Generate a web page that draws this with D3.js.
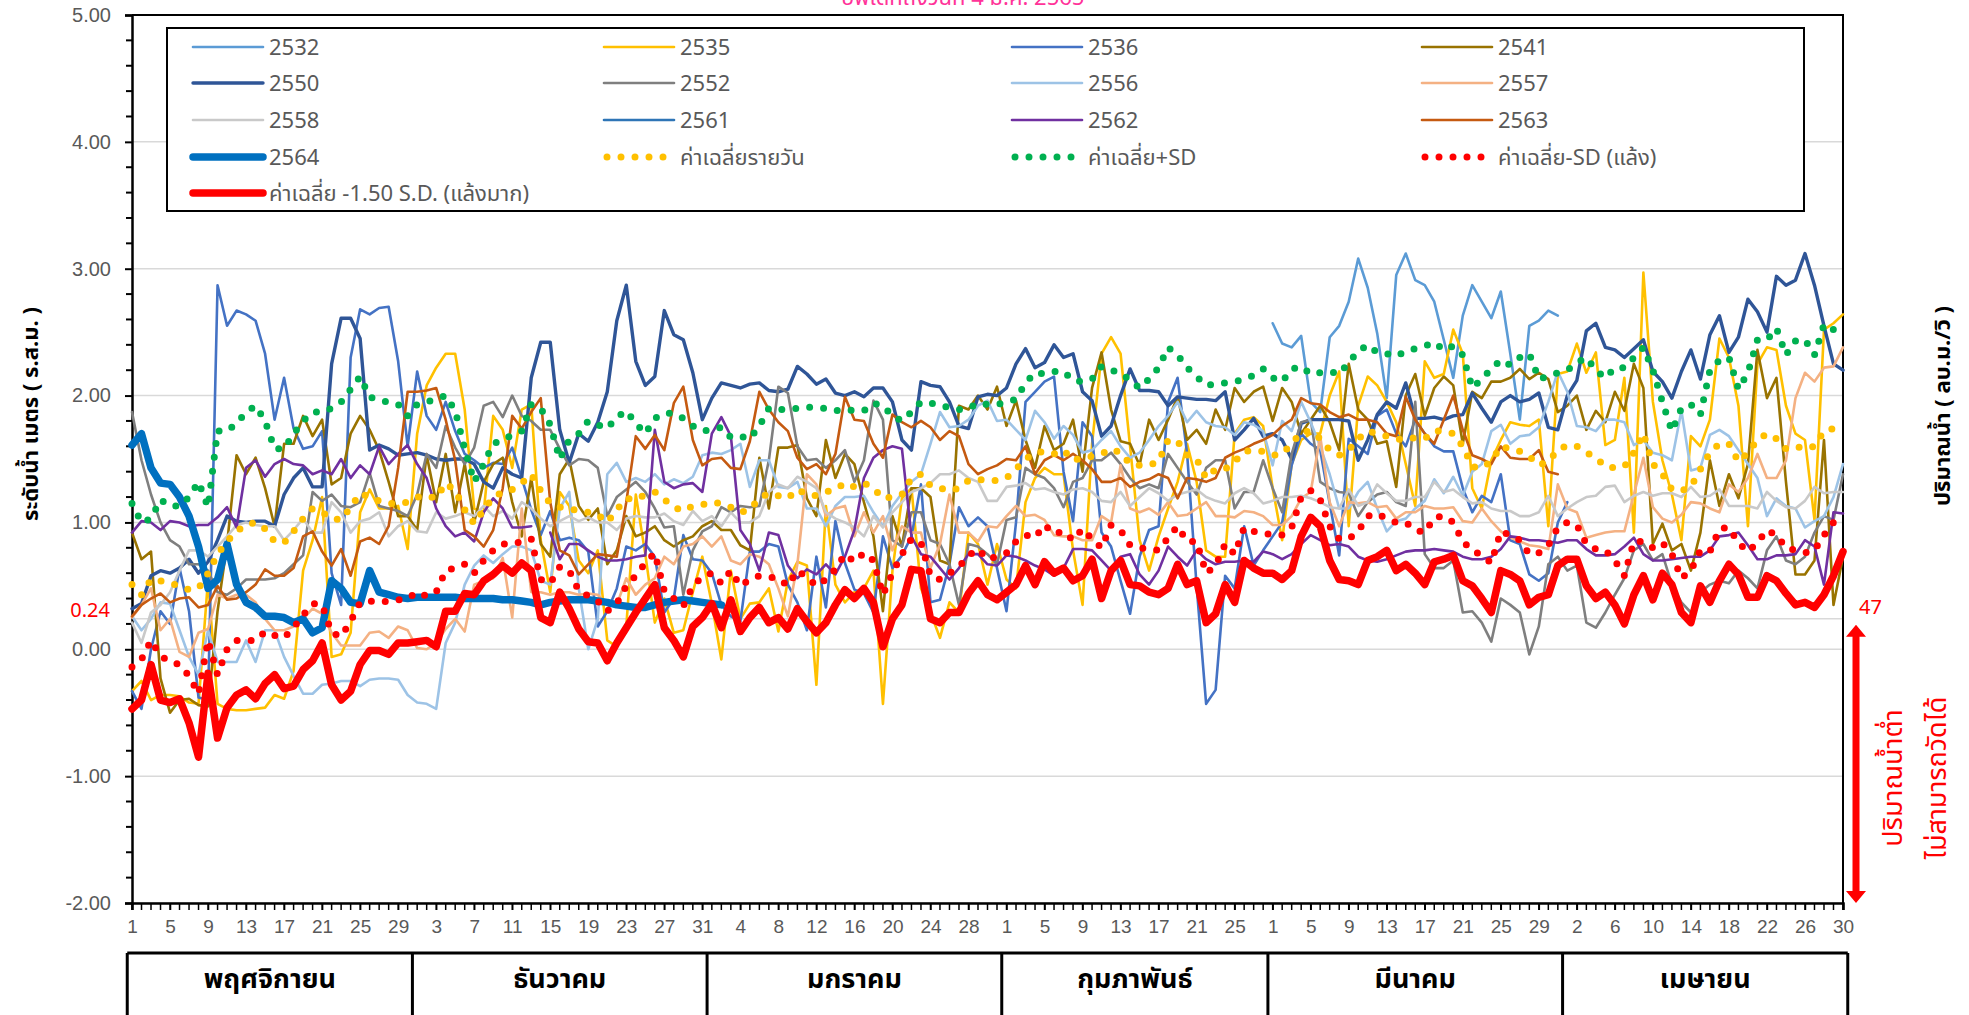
<!DOCTYPE html>
<html>
<head>
<meta charset="utf-8">
<script src="https://cdn.jsdelivr.net/npm/d3@7"></script>
<style>
  body { margin: 0; background: #fff; }
  svg { display: block; font-family: Tahoma, "Noto Sans Thai", "Noto Sans", sans-serif; }
</style>
</head>
<body>
<div id="chart"></div>
<script>
// months of the dry season (Nov - Apr)
const months = ["พฤศจิกายน", "ธันวาคม", "มกราคม", "กุมภาพันธ์", "มีนาคม", "เมษายน"];
const monthDays = [30, 31, 31, 28, 31, 30];
const yTicks = [5, 4, 3, 2, 1, 0, -1, -2];

// water level (m) per day, one value per day starting 1 Nov
const y2532 = [
  null,null,null,null,null,null,null,null,null,null,null,null,null,null,null,null,null,null,null,null,
  null,null,null,null,null,null,null,null,null,null,null,null,null,null,null,null,null,null,null,null,
  null,null,null,null,null,null,null,null,null,null,null,null,null,null,null,null,null,null,null,null,
  null,null,null,null,null,null,null,null,null,null,null,null,null,null,null,null,null,null,null,null,
  null,null,null,null,null,null,null,null,null,null,null,null,null,null,null,null,null,null,null,null,
  null,null,null,null,null,null,null,null,null,null,null,null,null,null,null,null,null,null,null,null,
  2.57,2.41,2.38,2.47,1.95,1.87,2.46,2.55,2.74,3.08,2.85,2.49,1.98,2.95,3.12,2.91,2.87,2.74,2.44,2.14,
  2.63,2.87,2.74,2.61,2.82,2.33,1.81,2.55,2.59,2.67,2.63];
const y2535 = [
  -0.33,-0.25,-0.40,-0.36,-0.36,-0.37,-0.42,-0.43,0.55,-0.43,-0.47,-0.48,-0.48,-0.47,-0.46,-0.36,-0.39,-0.17,0.62,0.86,
  1.20,-0.06,-0.04,0.13,1.08,1.26,1.11,1.11,1.13,0.79,1.70,
  2.08,2.22,2.33,2.33,1.89,1.11,1.08,1.84,1.73,1.43,1.89,1.93,0.86,0.45,1.24,1.13,0.70,0.60,0.78,0.07,
  0.02,0.18,1.22,0.75,0.21,0.40,0.13,0.15,0.45,0.73,0.36,
  -0.08,0.62,0.24,0.36,0.37,0.48,0.14,0.54,0.69,0.66,-0.28,1.13,0.51,0.37,0.45,0.48,0.62,-0.43,0.62,1.19,
  1.27,0.48,0.29,0.09,0.37,0.29,0.92,0.83,0.51,0.83,
  0.55,0.48,1.16,1.35,1.43,1.38,1.38,0.78,0.35,1.62,2.33,2.46,2.33,1.60,0.86,0.62,0.89,1.11,1.32,1.62,
  1.32,0.78,0.73,0.73,1.70,1.81,1.83,1.76,1.27,0.86,
  1.46,1.65,1.70,1.70,2.00,2.19,0.97,1.92,2.15,2.08,1.95,1.79,1.46,1.13,2.27,2.14,2.17,2.52,2.33,1.27,
  1.11,1.49,1.65,1.79,1.77,1.76,1.81,0.97,2.17,
  2.19,2.41,2.18,2.34,1.61,1.65,2.14,0.92,2.97,1.95,1.49,1.22,0.86,1.68,1.60,1.81,2.45,2.30,1.92,0.97,
  2.25,2.38,2.36,1.92,1.70,1.65,1.02,2.52,2.57,2.64];
const y2536 = [
  -0.33,-0.47,0.00,0.30,0.20,0.64,0.30,-0.38,-0.40,2.87,2.55,2.67,2.64,2.59,2.33,1.81,2.14,1.74,1.58,1.60,
  1.72,0.60,0.35,2.30,2.68,2.64,2.69,2.70,2.27,1.60,2.19,
  1.84,1.73,1.95,1.72,1.54,1.49,1.43,1.47,1.46,1.59,1.35,1.10,0.90,1.09,0.86,0.88,0.86,0.77,0.18,0.30,
  0.48,0.81,0.78,0.83,0.73,0.29,0.40,0.90,0.71,0.70,0.60,
  0.35,0.26,0.22,0.77,0.77,0.83,0.81,0.51,0.37,0.15,0.73,0.33,1.01,0.68,0.47,0.44,0.29,0.89,0.64,0.74,
  0.89,1.30,0.37,0.39,0.67,1.12,0.97,1.04,0.97,0.64,
  0.30,1.00,1.95,2.03,2.11,2.15,1.40,1.01,1.79,1.68,0.92,0.81,0.54,0.28,0.73,0.94,0.97,1.95,2.14,1.54,
  0.50,-0.43,-0.32,0.58,0.48,0.97,0.66,0.78,0.89,1.00,
  1.45,1.70,1.62,1.57,1.15,0.74,1.66,1.60,1.54,1.84,1.89,1.70,1.60,1.81,1.70,1.60,1.56,1.56,1.27,1.08,
  1.21,1.16,1.38,0.86,0.83,0.59,0.54,0.60,1.00,1.16];
const y2541 = [
  0.92,0.71,0.77,-0.23,-0.50,-0.40,-0.39,-0.44,-0.45,0.30,0.83,1.53,1.38,1.51,1.27,0.97,1.62,1.62,1.84,1.68,
  1.81,1.30,1.35,1.70,1.84,1.73,1.57,1.32,1.05,1.05,0.94,
  1.53,1.16,1.54,1.08,1.46,1.00,1.32,1.46,1.51,1.16,0.89,1.35,0.83,0.73,1.38,1.50,1.13,1.02,1.11,0.67,
  0.78,1.05,0.89,0.92,0.97,0.86,0.81,0.86,0.89,0.97,1.01,
  0.94,0.94,0.82,0.78,1.51,1.11,1.59,1.59,1.61,1.19,1.05,1.65,1.35,1.54,1.46,1.16,0.89,0.30,1.05,0.81,
  1.27,1.27,1.20,0.70,0.67,1.92,1.89,2.00,1.89,2.07,
  1.76,1.96,1.65,1.43,1.76,1.57,1.62,1.81,1.40,2.06,2.34,1.89,1.64,1.62,1.45,1.81,1.65,1.81,1.99,1.65,
  1.73,1.62,1.89,1.73,2.06,1.95,2.03,2.07,1.80,2.06,
  1.95,1.70,1.81,1.92,1.79,1.57,2.25,1.89,1.81,1.62,1.64,1.28,2.00,2.17,1.84,2.06,2.15,2.08,1.62,2.03,
  1.98,2.11,2.11,2.14,2.21,2.13,2.18,2.13,1.87,
  1.92,2.00,1.73,1.88,1.79,2.03,1.88,2.25,2.06,0.83,0.99,0.78,0.83,0.62,0.92,1.49,1.13,1.38,1.19,1.46,
  2.36,1.98,2.14,1.32,0.59,0.59,0.70,1.65,0.35,0.73];
const y2550 = [
  0.32,0.36,0.58,0.62,0.60,0.64,0.71,0.60,0.69,0.86,1.05,1.01,1.00,1.01,1.01,0.97,1.22,1.35,1.43,1.28,
  1.28,2.25,2.61,2.61,2.45,1.57,1.61,1.58,1.53,1.54,1.55,
  1.53,1.50,1.49,1.50,1.50,1.46,1.32,1.27,1.43,1.38,1.35,2.14,2.42,2.42,1.73,1.47,1.70,1.64,1.79,2.03,
  2.59,2.87,2.27,2.08,2.15,2.67,2.48,2.44,2.18,1.81,1.98,
  2.10,2.08,2.06,2.09,2.10,2.04,2.03,2.05,2.23,2.17,2.09,2.13,2.02,2.00,2.03,1.99,2.06,2.06,1.95,1.65,
  1.57,2.11,2.08,2.07,1.95,1.76,1.74,1.99,2.01,2.00,
  2.06,2.25,2.37,2.22,2.26,2.40,2.30,2.33,2.03,1.96,1.68,1.76,2.00,2.21,2.04,2.04,2.03,1.92,1.99,1.98,
  1.97,1.97,1.96,2.03,1.65,1.73,1.82,1.68,1.70,1.65,
  1.50,1.78,1.81,1.81,1.81,1.81,1.80,1.49,1.65,1.85,1.95,1.90,2.10,1.82,1.82,1.83,1.81,1.84,1.85,2.02,
  1.90,1.79,1.95,2.00,1.95,1.97,2.02,1.75,1.73,
  2.00,2.12,2.51,2.57,2.38,2.36,2.30,2.37,2.44,2.19,2.11,1.98,2.19,2.36,2.13,2.48,2.63,2.34,2.46,2.76,
  2.66,2.50,2.94,2.87,2.91,3.12,2.87,2.55,2.25,2.20];
const y2552 = [
  1.87,1.49,1.22,1.00,0.86,0.81,0.67,0.67,0.62,0.45,0.43,0.48,0.55,0.55,0.55,0.56,0.60,0.67,0.74,1.24,
  1.17,1.22,1.13,1.12,1.16,1.39,1.13,1.11,1.09,1.05,1.22,
  1.54,1.43,1.76,1.59,1.46,1.59,1.92,1.95,1.83,2.00,1.84,1.80,1.73,1.73,1.58,1.45,1.50,1.49,1.43,1.05,
  1.20,1.26,1.32,1.24,1.11,0.96,0.97,0.43,0.78,0.93,0.97,
  1.12,1.08,1.13,1.12,1.13,1.49,2.07,2.02,1.60,1.49,1.50,1.43,1.49,1.57,1.32,1.49,1.96,1.81,0.86,0.81,
  1.08,1.08,0.86,0.83,0.67,0.35,0.83,0.81,0.75,0.67,
  1.02,1.04,1.43,1.38,1.35,1.27,1.12,1.32,1.35,1.49,1.49,1.55,1.46,1.35,1.27,1.30,1.27,1.54,1.43,1.32,
  1.22,1.43,1.49,1.49,1.11,1.24,1.24,1.49,1.27,1.08,
  1.54,1.79,1.81,1.32,1.27,1.24,1.23,1.05,1.16,1.22,1.24,1.16,1.13,1.95,0.75,0.64,0.64,0.70,0.29,0.30,
  0.21,0.06,0.40,0.35,0.29,-0.04,0.18,0.67,0.73,
  0.62,0.66,0.21,0.17,0.29,0.43,0.56,0.78,0.83,0.70,0.75,0.51,0.37,0.29,0.45,0.51,0.54,0.52,0.62,0.56,
  0.48,0.78,0.89,0.70,0.67,0.73,0.92,1.05,1.02,1.38];
const y2556 = [
  0.26,0.15,0.24,0.37,0.36,0.15,-0.06,-0.20,0.15,-0.10,-0.10,-0.10,0.07,-0.10,0.15,0.15,-0.06,-0.21,-0.35,-0.35,
  -0.28,-0.27,-0.25,-0.25,-0.29,-0.24,-0.23,-0.23,-0.24,-0.36,-0.42,
  -0.43,-0.47,0.05,0.21,0.51,0.66,0.74,0.68,0.75,0.81,0.81,0.78,0.54,0.51,1.11,1.24,0.48,0.00,0.24,1.38,
  1.47,1.32,1.35,1.32,1.38,1.30,1.34,1.31,1.36,1.53,1.55,
  1.54,1.57,1.62,1.28,1.49,1.49,1.28,1.27,1.32,1.11,1.11,0.97,1.13,1.20,1.20,1.21,1.08,0.97,1.13,1.23,
  1.32,1.38,1.62,1.87,1.75,1.76,1.81,1.92,1.96,1.80,
  1.81,1.73,1.65,1.88,1.79,1.66,1.76,1.69,1.55,1.57,1.65,1.72,1.60,1.51,1.55,1.65,1.76,1.84,1.95,1.79,
  1.88,1.79,1.76,1.75,1.69,1.79,1.77,1.72,1.45,1.80,
  1.72,1.95,1.79,1.60,1.38,1.11,1.11,1.24,1.32,1.11,0.93,1.01,1.03,1.11,1.17,1.34,1.23,1.36,1.21,1.40,
  1.46,1.72,1.77,1.62,1.68,1.69,1.75,1.95,2.19,
  2.03,1.76,1.75,1.72,1.81,1.81,1.79,1.61,1.65,1.55,1.53,1.49,1.88,1.41,1.43,1.69,1.73,1.68,1.57,1.46,
  1.35,1.05,1.19,1.13,1.11,0.96,1.01,1.05,1.20,1.46];
const y2557 = [
  0.25,0.35,0.48,0.15,0.24,-0.02,-0.06,0.13,0.16,0.43,0.40,0.43,0.43,0.37,0.24,0.15,0.15,0.18,0.24,0.32,
  0.28,0.13,0.03,0.03,0.03,0.13,0.14,0.09,0.18,0.15,0.01,
  0.00,0.05,0.16,0.24,0.14,0.51,0.54,0.56,0.72,0.25,1.11,0.45,0.45,0.43,0.45,0.45,0.43,0.44,0.43,0.35,
  0.35,0.56,0.43,0.51,0.56,0.73,0.67,0.81,0.83,0.89,0.81,
  0.89,0.70,0.67,0.75,0.73,0.67,0.48,0.26,0.67,1.38,1.30,1.05,1.11,1.13,0.89,1.08,0.92,1.05,0.78,0.97,
  0.92,0.92,0.64,0.83,1.22,0.92,0.92,0.85,0.97,0.96,
  1.05,1.13,1.05,1.06,1.02,0.90,0.89,0.89,0.86,0.86,1.05,1.00,1.45,1.11,1.08,1.11,1.06,1.16,1.05,1.06,
  1.11,1.16,1.05,1.05,1.04,1.09,1.08,1.05,0.98,0.98,
  1.05,1.19,1.24,1.68,1.16,0.97,1.16,1.15,1.16,1.12,1.13,1.03,1.08,1.08,1.13,1.11,1.11,1.12,1.01,1.00,
  1.11,1.01,0.93,0.88,0.85,0.82,0.81,0.79,1.30,
  1.11,1.08,0.88,0.90,0.92,0.93,0.93,1.22,1.51,1.12,1.03,1.00,1.06,1.16,1.15,1.11,1.08,1.30,1.24,1.35,
  1.54,1.35,1.35,1.49,1.98,2.18,2.11,2.22,2.23,2.38];
const y2558 = [
  0.21,0.05,0.29,0.35,0.45,0.62,0.78,0.78,0.73,0.81,0.89,0.98,1.00,0.98,0.97,0.97,0.86,0.94,1.03,0.92,
  0.92,1.16,1.08,0.92,1.01,1.03,1.08,0.89,0.97,1.01,0.93,
  0.92,1.08,1.03,1.05,1.08,1.05,1.13,1.05,1.09,1.03,1.16,1.11,1.03,0.97,1.01,1.05,1.01,1.04,1.00,1.00,
  0.94,1.03,1.05,1.04,1.04,1.07,1.01,0.98,1.09,1.01,1.05,
  0.97,1.08,1.00,1.00,1.05,1.24,1.30,1.27,1.36,1.32,1.27,1.08,1.03,1.00,0.96,0.89,1.05,0.96,1.08,1.16,
  1.24,1.27,1.31,1.38,1.38,1.41,1.35,1.32,1.17,1.17,
  1.28,1.29,1.31,1.26,1.27,1.24,1.22,1.26,1.27,1.24,1.17,1.16,1.24,1.13,1.20,1.27,1.23,1.17,1.22,1.24,
  1.26,1.20,1.17,1.15,1.23,1.27,1.23,1.15,1.17,1.20,
  1.20,1.21,1.19,1.16,1.12,1.11,1.26,1.13,1.16,1.30,1.23,1.17,1.17,1.20,1.20,1.32,1.24,1.26,1.20,1.15,
  1.16,1.11,1.09,1.09,1.05,1.05,1.08,1.21,1.05,
  1.11,1.16,1.20,1.21,1.28,1.29,1.16,1.21,1.24,1.21,1.23,1.23,1.20,1.28,1.20,1.21,1.26,1.13,1.13,1.13,
  1.11,1.24,1.17,1.12,1.11,1.17,1.28,1.23,1.24,1.24];
const y2561 = [];
const y2562 = [
  0.92,1.01,1.00,0.94,1.01,1.00,0.97,0.98,0.98,1.04,1.12,0.96,1.43,1.49,1.36,1.46,1.50,1.46,1.45,1.38,
  1.41,1.38,1.50,1.35,1.45,1.38,1.60,1.46,1.54,1.61,1.46,
  1.35,1.11,0.97,0.89,0.92,0.85,1.08,1.19,1.11,0.96,0.96,0.97,null,0.92,0.71,0.83,0.83,0.78,0.73,0.70,
  0.70,0.71,0.73,0.74,1.73,1.32,1.27,1.30,1.31,1.24,1.70,
  1.83,1.68,0.94,0.83,0.62,0.92,0.90,0.66,0.56,0.63,0.59,0.67,0.59,0.73,0.94,1.35,1.51,1.57,1.60,1.58,
  0.89,0.75,0.73,0.64,0.55,0.64,0.75,0.75,0.67,0.66,
  0.74,0.73,0.70,0.66,0.63,0.58,0.64,0.79,0.79,0.78,0.70,0.62,0.73,0.75,0.59,0.51,0.62,0.81,0.73,0.66,
  0.78,0.71,0.67,0.69,0.69,0.70,0.69,0.77,0.75,0.71,
  0.75,0.83,0.90,0.86,0.82,0.83,0.81,0.73,0.70,0.69,0.71,0.74,0.77,0.78,0.78,0.79,0.78,0.77,0.73,0.71,
  0.71,0.73,0.79,0.89,0.88,0.86,0.86,0.85,0.84,
  0.86,0.86,0.79,0.74,0.74,0.75,0.81,0.88,0.75,0.70,0.70,0.71,0.72,0.73,0.73,0.78,0.89,0.90,0.92,0.82,
  0.71,0.71,0.74,0.74,0.75,0.86,0.81,0.51,1.08,1.07];
const y2563 = [
  0.26,0.35,0.40,0.44,0.37,0.40,0.41,0.33,0.35,0.50,0.39,0.40,0.45,0.51,0.63,0.58,0.58,0.64,0.89,0.93,
  0.77,0.66,0.79,0.58,0.85,0.88,0.83,0.97,1.43,2.03,2.03,
  2.04,2.06,1.81,1.49,0.94,0.89,0.81,0.94,1.27,1.84,1.74,1.87,1.98,1.16,0.78,0.74,0.59,0.67,0.75,0.74,
  0.73,1.16,1.68,1.58,1.69,1.57,1.94,2.07,1.65,1.45,1.50,
  1.51,1.43,1.42,1.64,2.03,1.89,1.79,1.72,1.51,1.42,1.46,1.38,1.54,1.99,1.81,1.80,1.62,1.51,1.85,1.79,
  1.75,1.80,1.75,1.65,1.72,1.68,1.46,1.38,1.42,1.45,
  1.50,1.49,1.60,1.38,1.49,1.53,1.49,1.54,1.49,1.42,1.32,1.32,1.35,1.28,1.32,1.34,1.38,1.35,1.19,1.35,
  1.34,1.32,1.35,1.51,1.55,1.58,1.62,1.65,1.69,1.76,
  1.81,1.98,1.94,1.93,1.87,1.83,1.85,1.81,1.81,1.79,1.70,1.68,1.99,1.81,1.70,1.62,1.81,2.00,1.73,1.53,
  1.50,1.46,1.60,1.51,1.50,1.50,1.57,1.40,1.38];
const y2564 = [
  1.61,1.70,1.43,1.31,1.30,1.20,1.05,0.81,0.48,0.55,0.83,0.51,0.37,0.33,0.26,0.26,0.25,0.21,0.24,0.13,
  0.17,0.54,0.48,0.37,0.36,0.62,0.45,0.43,0.41,0.40,0.41,
  0.41,0.41,0.41,0.41,0.40,0.40,0.40,0.40,0.39,0.39,0.38,0.37,0.35,0.37,0.38,0.39,0.39,0.39,0.38,0.37,
  0.35,0.34,0.33,0.33,0.35,0.37,0.38,0.39,0.38,0.37,0.36,
  0.35];
const dailyMean = [
  0.51,0.43,0.55,0.54,0.52,0.50,0.47,0.48,0.60,0.75,0.85,0.93,0.98,1.00,0.95,0.85,0.84,0.93,1.03,1.11,
  1.08,1.03,1.02,1.12,1.23,1.20,1.17,1.15,1.15,1.16,1.20,
  1.21,1.19,1.31,1.25,1.10,0.99,1.10,1.20,1.24,1.26,1.31,1.38,1.25,1.15,1.12,1.11,1.09,1.08,1.06,1.00,
  1.10,1.19,1.18,1.22,1.24,1.18,1.12,1.09,1.13,1.14,1.16,
  1.15,1.12,1.08,1.10,1.19,1.23,1.21,1.19,1.26,1.22,1.21,1.24,1.26,1.31,1.28,1.31,1.27,1.19,1.20,1.22,
  1.35,1.38,1.29,1.27,1.25,1.27,1.33,1.34,1.33,1.33,
  1.35,1.42,1.50,1.55,1.56,1.54,1.57,1.49,1.51,1.52,1.54,1.58,1.55,1.46,1.45,1.45,1.48,1.65,1.64,1.53,
  1.50,1.35,1.42,1.42,1.48,1.56,1.57,1.56,1.53,1.54,
  1.62,1.71,1.72,1.66,1.57,1.53,1.57,1.66,1.72,1.70,1.68,1.66,1.65,1.67,1.66,1.72,1.72,1.70,1.60,1.44,
  1.43,1.48,1.60,1.58,1.56,1.52,1.45,1.48,1.57,
  1.61,1.60,1.55,1.51,1.44,1.43,1.44,1.55,1.70,1.46,1.38,1.26,1.25,1.28,1.42,1.55,1.62,1.62,1.48,1.55,
  1.65,1.70,1.66,1.58,1.60,1.58,1.60,1.72,1.74,1.74];
const meanPlusSD = [
  1.15,1.00,1.03,1.18,1.13,1.13,1.20,1.32,1.12,1.72,1.72,1.78,1.87,1.92,1.80,1.58,1.58,1.70,1.80,1.87,
  1.87,1.90,1.95,2.05,2.15,1.99,1.96,1.95,1.93,1.84,1.93,
  1.95,1.97,2.00,1.88,1.58,1.32,1.46,1.62,1.65,1.69,1.72,1.93,1.90,1.77,1.50,1.65,1.70,1.80,1.77,1.74,
  1.83,1.88,1.78,1.70,1.82,1.86,1.86,1.82,1.76,1.72,1.73,
  1.75,1.67,1.68,1.66,1.76,1.90,1.89,1.89,1.90,1.91,1.90,1.90,1.88,1.89,1.88,1.88,1.94,1.92,1.84,1.80,
  1.87,1.95,1.94,1.93,1.90,1.89,1.90,1.94,1.93,1.93,
  1.95,1.97,2.10,2.18,2.17,2.19,2.19,2.12,2.11,2.13,2.23,2.20,2.18,2.12,2.06,2.13,2.22,2.38,2.32,2.22,
  2.15,2.08,2.09,2.10,2.11,2.13,2.16,2.21,2.14,2.11,
  2.21,2.23,2.17,2.18,2.19,2.17,2.26,2.35,2.40,2.34,2.33,2.31,2.35,2.37,2.39,2.42,2.36,2.39,2.32,2.06,
  2.13,2.21,2.28,2.24,2.30,2.33,2.13,2.15,2.18,
  2.20,2.26,2.30,2.20,2.14,2.22,2.22,2.30,2.38,2.20,1.95,1.72,1.90,1.93,1.85,2.20,2.28,2.30,2.05,2.18,
  2.44,2.44,2.53,2.32,2.43,2.44,2.32,2.56,2.52,2.48];
const meanMinusSD = [
  -0.14,-0.08,0.07,-0.05,-0.10,-0.12,-0.21,-0.35,0.07,-0.20,0.00,0.07,0.07,0.07,0.14,0.11,0.09,0.17,0.27,0.36,
  0.35,0.13,0.10,0.22,0.37,0.38,0.37,0.38,0.39,0.40,0.45,
  0.42,0.45,0.62,0.64,0.67,0.60,0.70,0.78,0.83,0.83,0.85,0.87,0.55,0.52,0.65,0.62,0.46,0.42,0.38,0.30,
  0.36,0.50,0.58,0.68,0.76,0.46,0.40,0.34,0.50,0.57,0.60,
  0.52,0.62,0.50,0.55,0.58,0.57,0.56,0.50,0.62,0.57,0.50,0.55,0.63,0.75,0.69,0.76,0.70,0.43,0.60,0.75,
  0.87,0.84,0.58,0.55,0.60,0.65,0.74,0.79,0.71,0.73,
  0.76,0.85,0.90,0.88,0.98,0.91,0.93,0.86,0.95,0.87,0.80,0.98,0.94,0.82,0.80,0.79,0.78,0.88,0.97,0.85,
  0.85,0.60,0.66,0.83,0.75,0.96,0.93,0.92,0.90,0.90,
  0.96,1.20,1.25,1.18,0.97,0.87,0.87,0.93,1.05,1.07,1.03,1.00,1.00,0.94,0.92,1.04,1.05,1.00,0.85,0.78,
  0.74,0.68,0.93,0.90,0.86,0.75,0.76,0.82,0.96,
  1.00,0.98,0.83,0.79,0.78,0.70,0.58,0.85,0.85,0.80,0.84,0.75,0.56,0.62,0.78,0.77,0.95,0.96,0.84,0.77,
  0.84,0.94,0.90,0.80,0.78,0.76,0.78,0.90,1.00,1.05];
const meanMinus15SD = [
  -0.47,-0.40,-0.12,-0.40,-0.42,-0.39,-0.58,-0.85,-0.19,-0.70,-0.46,-0.36,-0.32,-0.39,-0.27,-0.20,-0.31,-0.29,-0.16,-0.09,
  0.05,-0.28,-0.40,-0.33,-0.12,-0.01,-0.01,-0.04,0.05,0.05,0.06,
  0.07,0.02,0.30,0.30,0.44,0.43,0.54,0.59,0.66,0.60,0.68,0.62,0.25,0.21,0.45,0.32,0.16,0.06,0.05,-0.09,
  0.05,0.17,0.29,0.40,0.51,0.17,0.07,-0.06,0.18,0.25,0.36,
  0.17,0.39,0.14,0.25,0.33,0.21,0.25,0.16,0.32,0.22,0.13,0.21,0.35,0.47,0.40,0.48,0.37,0.02,0.24,0.35,
  0.63,0.62,0.24,0.21,0.29,0.29,0.44,0.54,0.43,0.39,
  0.45,0.51,0.66,0.51,0.69,0.60,0.64,0.54,0.58,0.71,0.40,0.62,0.70,0.51,0.50,0.45,0.43,0.48,0.67,0.51,
  0.54,0.21,0.28,0.51,0.37,0.70,0.64,0.60,0.60,0.55,
  0.62,0.89,1.04,0.97,0.70,0.55,0.54,0.51,0.70,0.73,0.78,0.62,0.67,0.60,0.51,0.69,0.71,0.74,0.54,0.50,
  0.40,0.29,0.62,0.59,0.54,0.35,0.41,0.43,0.66,
  0.71,0.71,0.50,0.40,0.45,0.35,0.20,0.43,0.58,0.39,0.60,0.51,0.29,0.21,0.50,0.37,0.54,0.67,0.59,0.41,
  0.41,0.58,0.54,0.44,0.35,0.37,0.33,0.43,0.58,0.77];
const lowFlowLevel = 0.24;
const lowFlowDischarge = 47;

// series table (draw order = legend order)
const series = [
  { name: "2532", values: y2532, color: "#5B9BD5", width: 2.6 },
  { name: "2535", values: y2535, color: "#FFC000", width: 2.6 },
  { name: "2536", values: y2536, color: "#4472C4", width: 2.6 },
  { name: "2541", values: y2541, color: "#997300", width: 2.6 },
  { name: "2550", values: y2550, color: "#2F5597", width: 3.4 },
  { name: "2552", values: y2552, color: "#7F7F7F", width: 2.6 },
  { name: "2556", values: y2556, color: "#9DC3E6", width: 2.6 },
  { name: "2557", values: y2557, color: "#F4B183", width: 2.6 },
  { name: "2558", values: y2558, color: "#C9C9C9", width: 2.6 },
  { name: "2561", values: y2561, color: "#2E75B6", width: 2.6 },
  { name: "2562", values: y2562, color: "#7030A0", width: 2.6 },
  { name: "2563", values: y2563, color: "#C55A11", width: 2.6 },
  { name: "2564", values: y2564, color: "#0070C0", width: 7.5 },
  { name: "ค่าเฉลี่ยรายวัน", values: dailyMean, color: "#FFC000", width: 7, dotted: true },
  { name: "ค่าเฉลี่ย+SD", values: meanPlusSD, color: "#00B050", width: 7, dotted: true },
  { name: "ค่าเฉลี่ย-SD (แล้ง)", values: meanMinusSD, color: "#FF0000", width: 7, dotted: true },
  { name: "ค่าเฉลี่ย -1.50 S.D. (แล้งมาก)", values: meanMinus15SD, color: "#FF0000", width: 7.5 }
];

// category labels: day of month for every day Nov..Apr
const dayLabels = [];
const monthStart = [];
months.forEach((m, i) => {
  monthStart.push(dayLabels.length);
  for (let d = 1; d <= monthDays[i]; d++) dayLabels.push(d);
});
const nDays = dayLabels.length;

const width = 1969, height = 1015;
const margin = { top: 15, right: 126, bottom: 112, left: 132 };

const svg = d3.select("#chart").append("svg")
  .attr("width", width)
  .attr("height", height);

const x = d3.scaleLinear()
  .domain([0, nDays - 1])
  .range([margin.left, width - margin.right]);

const y = d3.scaleLinear()
  .domain([-2, 5])
  .range([height - margin.bottom, margin.top]);

const grey = "#595959";

// title (only its lower part shows, as in the original)
svg.append("text")
  .attr("x", 963).attr("y", 5)
  .attr("text-anchor", "middle")
  .style("font-size", "22px")
  .style("fill", "#FF3399")
  .text("อัพเดทถึงวันที่ 4 ม.ค. 2565");

// gridlines
svg.append("g")
  .selectAll("line")
  .data(yTicks.concat([lowFlowLevel]))
  .enter().append("line")
  .attr("x1", x(0)).attr("x2", x(nDays - 1))
  .attr("y1", d => y(d)).attr("y2", d => y(d))
  .attr("stroke", "#D9D9D9")
  .attr("stroke-width", 1.5);

// plot border (top + right)
svg.append("path")
  .attr("d", `M${x(0)},${y(5)}H${x(nDays - 1)}V${y(-2)}`)
  .attr("fill", "none")
  .attr("stroke", "#000")
  .attr("stroke-width", 2);

// y axis
const yAxis = svg.append("g")
  .attr("transform", `translate(${x(0)},0)`)
  .call(d3.axisLeft(y).tickValues(yTicks).tickFormat(d => d.toFixed(2)).tickSize(7).tickPadding(14));
yAxis.select(".domain").attr("stroke", "#000").attr("stroke-width", 2.5);
yAxis.selectAll(".tick line").attr("stroke", "#000").attr("stroke-width", 2);
yAxis.selectAll("text").style("font-size", "20px").style("fill", grey).style("font-family", "inherit");

// minor ticks every 0.2
svg.append("g")
  .selectAll("line")
  .data(d3.range(-20, 51, 2).map(v => v / 10).filter(v => Math.abs(v - Math.round(v)) > 0.01))
  .enter().append("line")
  .attr("x1", x(0) - 6).attr("x2", x(0))
  .attr("y1", d => y(d)).attr("y2", d => y(d))
  .attr("stroke", "#000").attr("stroke-width", 2);

// 0.24 label
svg.append("text")
  .attr("x", x(0) - 22).attr("y", y(lowFlowLevel) - 2)
  .attr("text-anchor", "end")
  .style("font-size", "20px")
  .style("fill", "#FF0000")
  .text(lowFlowLevel.toFixed(2));

// x axis
const xAxis = svg.append("g")
  .attr("transform", `translate(0,${y(-2)})`)
  .call(d3.axisBottom(x)
    .tickValues(d3.range(0, nDays, 4))
    .tickFormat(i => dayLabels[i])
    .tickSize(7).tickPadding(10));
xAxis.select(".domain").attr("stroke", "#000").attr("stroke-width", 2.5);
xAxis.selectAll(".tick line").attr("stroke", "#000").attr("stroke-width", 1.5);
xAxis.selectAll("text").style("font-size", "19px").style("fill", grey).style("font-family", "inherit");

// small ticks for every day
svg.append("g")
  .selectAll("line")
  .data(d3.range(nDays))
  .enter().append("line")
  .attr("x1", d => x(d)).attr("x2", d => x(d))
  .attr("y1", y(-2)).attr("y2", y(-2) + 7)
  .attr("stroke", "#000").attr("stroke-width", 1.5);

// lines
const line = d3.line()
  .defined(d => d != null)
  .x((d, i) => x(i))
  .y(d => y(d));

svg.append("g")
  .selectAll("path")
  .data(series)
  .enter().append("path")
  .attr("d", d => line(d.values))
  .attr("fill", "none")
  .attr("stroke", d => d.color)
  .attr("stroke-width", d => d.width)
  .attr("stroke-linejoin", "round")
  .attr("stroke-linecap", "round")
  .attr("stroke-dasharray", d => d.dotted ? "0 14" : null);

// red arrow for low flow not measurable
const ax = x(nDays - 1) + 13;
const aTop = y(lowFlowLevel) + 6, aBot = y(-2);
svg.append("line")
  .attr("x1", ax).attr("x2", ax)
  .attr("y1", aTop + 8).attr("y2", aBot - 8)
  .attr("stroke", "#FF0000").attr("stroke-width", 7);
svg.append("path")
  .attr("d", `M${ax},${aTop}L${ax - 10},${aTop + 12}L${ax + 10},${aTop + 12}Z M${ax},${aBot}L${ax - 10},${aBot - 12}L${ax + 10},${aBot - 12}Z`)
  .attr("fill", "#FF0000");

svg.append("text")
  .attr("x", ax + 3).attr("y", y(lowFlowLevel) - 5)
  .style("font-size", "20px")
  .style("fill", "#FF0000")
  .text(lowFlowDischarge);

const redNote = svg.append("text")
  .attr("transform", `translate(1902,778) rotate(-90)`)
  .attr("text-anchor", "middle")
  .style("font-size", "27px")
  .style("fill", "#FF0000");
redNote.append("tspan").attr("x", 0).attr("dy", 0).text("ปริมาณน้ำต่ำ");
redNote.append("tspan").attr("x", 0).attr("dy", 44).text("ไม่สามารถวัดได้");

// axis titles
svg.append("text")
  .attr("transform", `translate(38,${414}) rotate(-90)`)
  .attr("text-anchor", "middle")
  .style("font-size", "22px")
  .style("font-weight", "bold")
  .text("ระดับน้ำ เมตร ( ร.ส.ม. )");

svg.append("text")
  .attr("transform", `translate(1950,${406}) rotate(-90)`)
  .attr("text-anchor", "middle")
  .style("font-size", "22px")
  .style("font-weight", "bold")
  .text("ปริมาณน้ำ ( ลบ.ม./วิ )");

// month table under the axis
const boxTop = 953;
const edges = monthStart.map(s => x(s - 0.5)).concat([x(nDays - 0.5)]);
svg.append("line")
  .attr("x1", edges[0]).attr("x2", edges[edges.length - 1])
  .attr("y1", boxTop).attr("y2", boxTop)
  .attr("stroke", "#000").attr("stroke-width", 3);
svg.append("g")
  .selectAll("line")
  .data(edges)
  .enter().append("line")
  .attr("x1", d => d).attr("x2", d => d)
  .attr("y1", boxTop).attr("y2", height)
  .attr("stroke", "#000").attr("stroke-width", 3);
svg.append("g")
  .selectAll("text")
  .data(months)
  .enter().append("text")
  .attr("x", (d, i) => (edges[i] + edges[i + 1]) / 2)
  .attr("y", boxTop + 35)
  .attr("text-anchor", "middle")
  .style("font-size", "27px")
  .style("font-weight", "bold")
  .text(d => d);

// legend
const legend = svg.append("g");
legend.append("rect")
  .attr("x", 167).attr("y", 28)
  .attr("width", 1637).attr("height", 183)
  .attr("fill", "#fff")
  .attr("stroke", "#000")
  .attr("stroke-width", 2);

const colX = [193, 604, 1012, 1422];
const rowY = [47, 83, 120, 157, 193];
series.forEach((s, i) => {
  const cx = colX[i % 4], cy = rowY[Math.floor(i / 4)];
  const g = legend.append("g").attr("transform", `translate(${cx},${cy})`);
  g.append("line")
    .attr("x1", s.dotted ? 3 : 0).attr("x2", s.dotted ? 63 : 70)
    .attr("y1", 0).attr("y2", 0)
    .attr("stroke", s.color)
    .attr("stroke-width", s.dotted ? 7 : Math.min(s.width, 8))
    .attr("stroke-linecap", "round")
    .attr("stroke-dasharray", s.dotted ? "0 14" : null);
  g.append("text")
    .attr("x", 76).attr("y", 8)
    .style("font-size", "22px")
    .style("fill", grey)
    .text(s.name);
});
</script>
</body>
</html>
